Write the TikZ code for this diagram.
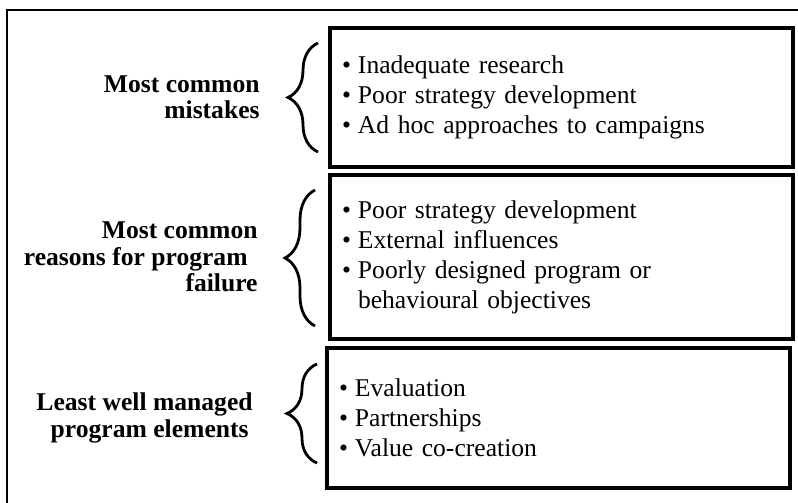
\documentclass[tikz,border=0pt]{standalone}
\usepackage{fontspec}
\setmainfont{Liberation Serif}
\usetikzlibrary{positioning,decorations.pathreplacing}
\tikzset{
	box/.style={
		rectangle,
		draw=black, line width=2pt,
		text width=219.5pt,
		inner xsep=6pt,
		align=left,
		font=\fontsize{12.8}{15}\selectfont,
	},
	heading/.style={
		align=right,
		inner sep=0pt,
		font=\fontsize{12.8}{13.2}\selectfont\bfseries,
	},
	curly/.style={
		decorate,
		decoration={brace,amplitude=15pt},
		line width=1.4pt,
	},
}
\newcommand{\bul}{\makebox[8pt][l]{\textbullet}}

\begin{document}
\begin{tikzpicture}[x=0.5pt,y=-0.5pt]
\useasboundingbox (0,0) rectangle (798,503);
\draw[line width=1.4pt] (7,503) -- (7,10) -- (798,10);

\node	(mistakes)	[box, minimum height=69.5pt]	at (561.5,97.5)	{\bul Inadequate research\\ \bul Poor strategy development\\ \bul Ad hoc approaches to campaigns};
\node	(failure)	[box, minimum height=82pt]	[below=2pt of mistakes]	{\bul Poor strategy development\\ \bul External influences\\ \bul Poorly designed program or\\ \hspace*{8pt}behavioural objectives};
\node	(managed)	[box, minimum height=70pt]	[below=2.5pt of failure, xshift=-1.5pt]	{\bul Evaluation\\ \bul Partnerships\\ \bul Value co-creation};

\node	(mistakes_lbl)	[heading]	[left=34pt of mistakes]	{Most common\\ mistakes};
\node	(failure_lbl)	[heading]	[left=35pt of failure]	{Most common\\ reasons for program\kern5pt\\ failure};
\node	(managed_lbl)	[heading]	[left=36pt of managed]	{Least well managed\\ program elements\kern2pt};

\draw[curly] ([xshift=-5pt,yshift=8.5pt]mistakes.south west) -- ([xshift=-5pt,yshift=-8.5pt]mistakes.north west);
\draw[curly] ([xshift=-6.5pt,yshift=7.5pt]failure.south west) -- ([xshift=-6.5pt,yshift=-8.5pt]failure.north west);
\draw[curly] ([xshift=-4pt,yshift=13.5pt]managed.south west) -- ([xshift=-4pt,yshift=-9pt]managed.north west);

\end{tikzpicture}
\end{document}
